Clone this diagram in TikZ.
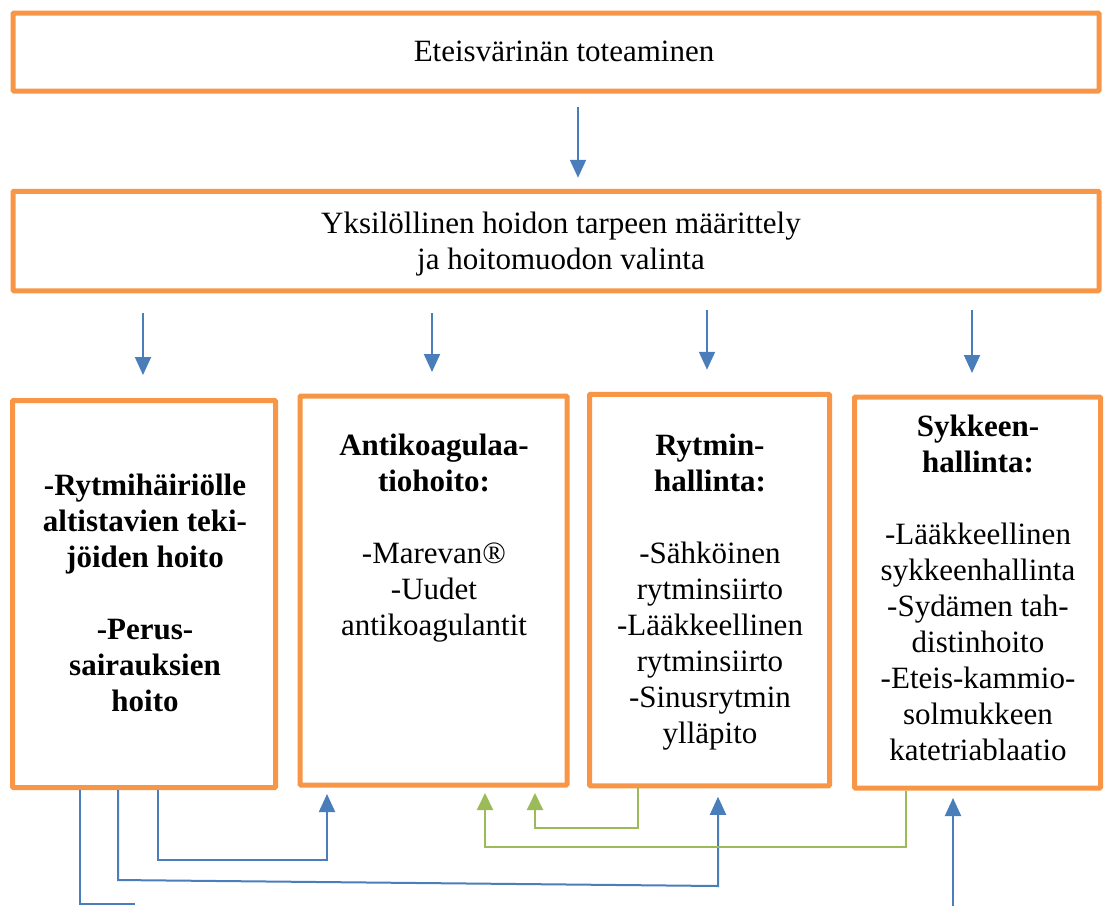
\documentclass[tikz,border=0pt]{standalone}
\usepackage{fontspec}
\setmainfont{Liberation Serif}
\usetikzlibrary{arrows.meta}
\definecolor{boxorange}{HTML}{F79646}
\definecolor{lineblue}{HTML}{4A7EBB}
\definecolor{linegreen}{HTML}{9BBB59}
\tikzset{
  box/.style={draw=boxorange, line width=5pt, inner sep=0pt, rectangle, rounded corners=1pt},
  txt/.style={align=center, inner sep=0pt, font=\fontsize{31}{36}\selectfont},
  bline/.style={draw=lineblue, line width=2pt},
  gline/.style={draw=linegreen, line width=2pt},
  barrow/.style={bline, -{Triangle[width=16pt,length=18pt]}},
  garrow/.style={gline, -{Triangle[width=16pt,length=17pt]}},
}
\begin{document}
\begin{tikzpicture}[x=1pt,y=-1pt]
\useasboundingbox (0,0) rectangle (1113,906);
% boxes
\node[box, minimum width=1086pt, minimum height=78pt] (T) at (556,52) {};
\node[box, minimum width=1086pt, minimum height=99.5pt] (Y) at (556,241) {};
\node[box, minimum width=263pt, minimum height=387pt] (A) at (144,594) {};
\node[box, minimum width=267pt, minimum height=389pt] (B) at (433.5,590.5) {};
\node[box, minimum width=240pt, minimum height=391.5pt] (C) at (709.5,590) {};
\node[box, minimum width=246pt, minimum height=391pt] (D) at (977.5,592.5) {};
% texts
\node[txt] (tT) at (564,51) {Eteisvärinän toteaminen};
\node[txt] (tY) at (561,244) {Yksilöllinen hoidon tarpeen määrittely\\ja hoitomuodon valinta};
\node[txt, font=\fontsize{31}{36}\selectfont\bfseries] (tA) at (145,593) {-Rytmihäiriölle\\altistavien teki-\\jöiden hoito\\[36pt]-Perus-\\sairauksien\\hoito};
\node[txt] (tB) at (434,538) {\textbf{Antikoagulaa-}\\\textbf{tiohoito:}\\[36pt]-Marevan®\\-Uudet\\antikoagulantit};
\node[txt] (tC) at (710,592) {\textbf{Rytmin-}\\\textbf{hallinta:}\\[36pt]-Sähköinen\\rytminsiirto\\-Lääkkeellinen\\rytminsiirto\\-Sinusrytmin\\ylläpito};
\node[txt] (tD) at (978,588) {\textbf{Sykkeen-}\\\textbf{hallinta:}\\[36pt]-Lääkkeellinen\\sykkeenhallinta\\-Sydämen tah-\\distinhoito\\-Eteis-kammio-\\solmukkeen\\katetriablaatio};
% down arrows
\coordinate (x0) at (578,0);
\coordinate (x1) at (143,0);
\coordinate (x2) at (432,0);
\coordinate (x3) at (707,0);
\coordinate (x4) at (972,0);
\draw[barrow, shorten <=13.5pt, shorten >=11pt] (T.south -| x0) -- (Y.north -| x0);
\draw[barrow, shorten <=19.5pt, shorten >=23pt] (Y.south -| x1) -- (A.north -| x1);
\draw[barrow, shorten <=19.5pt, shorten >=21.5pt] (Y.south -| x2) -- (B.north -| x2);
\draw[barrow, shorten <=16.5pt, shorten >=22pt] (Y.south -| x3) -- (C.north -| x3);
\draw[barrow, shorten <=16.5pt, shorten >=21.5pt] (Y.south -| x4) -- (D.north -| x4);
% bottom connectors
\coordinate (b1) at (80,904);
\coordinate (b1e) at (135,904);
\draw[bline] (A.south -| b1) -- (b1) -- (b1e);
\coordinate (b2) at (118,880);
\coordinate (b2t) at (718,886);
\draw[barrow, shorten >=8.5pt] (A.south -| b2) -- (b2) -- (b2t) -- (C.south -| b2t);
\coordinate (b3) at (158,860);
\coordinate (b3t) at (327,860);
\draw[barrow, shorten >=6.5pt] (A.south -| b3) -- (b3) -- (b3t) -- (B.south -| b3t);
\coordinate (g1) at (638,828);
\coordinate (g1t) at (535,828);
\draw[garrow, shorten >=5.5pt] (C.south -| g1) -- (g1) -- (g1t) -- (B.south -| g1t);
\coordinate (g2) at (906,847);
\coordinate (g2t) at (485,847);
\draw[garrow, shorten >=5.5pt] (D.south -| g2) -- (g2) -- (g2t) -- (B.south -| g2t);
\coordinate (b4) at (953,906);
\draw[barrow, shorten >=7.5pt] (b4) -- (D.south -| b4);
\end{tikzpicture}
\end{document}
